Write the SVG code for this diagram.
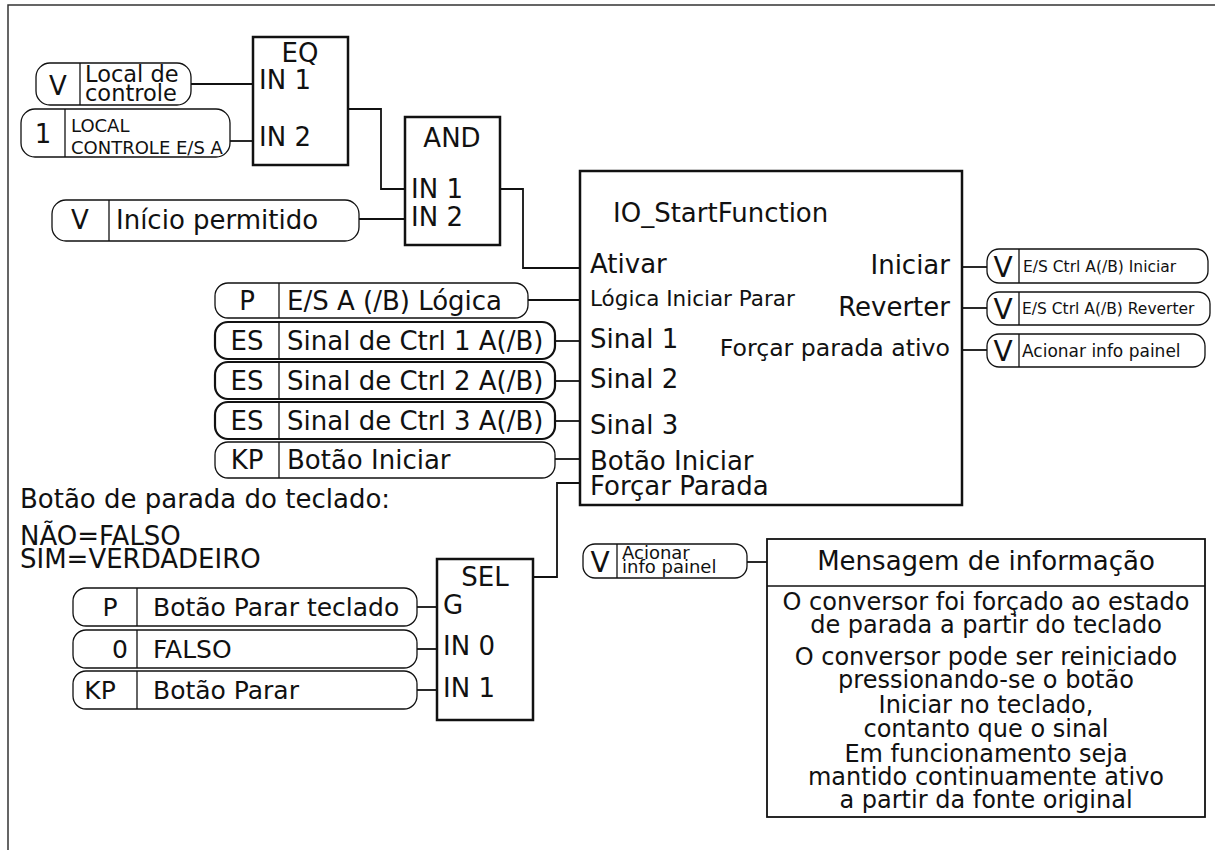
<svg xmlns="http://www.w3.org/2000/svg" width="1215" height="850" viewBox="0 0 1215 850">
<style>
text{font-family:"DejaVu Sans",Verdana,sans-serif;fill:#111}
.box{fill:#fff;stroke:#111;stroke-width:2.5}
.pill{fill:#fff;stroke:#111;stroke-width:1.3}
.pill2{fill:#fff;stroke:#111;stroke-width:2.2}
.div{stroke:#111;stroke-width:1.3}
.wire{fill:none;stroke:#111;stroke-width:1.8}
.frame{fill:none;stroke:#333;stroke-width:1.5}
.t26{font-size:26px}
.m{text-anchor:middle}
.e{text-anchor:end}
</style>
<path class="frame" d="M8,850 V5 H1215"/>
<g id="connectors">
<path class="wire" d="M191,84 H253"/>
<path class="wire" d="M230,141 H253"/>
<path class="wire" d="M348,109 H381 V189 H405"/>
<path class="wire" d="M359,219 H405"/>
<path class="wire" d="M500,189 H523 V268 H580"/>
<path class="wire" d="M528,300 H580"/>
<path class="wire" d="M555,341 H580"/>
<path class="wire" d="M555,381 H580"/>
<path class="wire" d="M555,421 H580"/>
<path class="wire" d="M555,459 H580"/>
<path class="wire" d="M533,577 H557 V483 H580"/>
<path class="wire" d="M417,607 H437"/>
<path class="wire" d="M417,649 H437"/>
<path class="wire" d="M417,690 H437"/>
<path class="wire" d="M962,267 H987"/>
<path class="wire" d="M962,308 H987"/>
<path class="wire" d="M962,350 H987"/>
<path class="wire" d="M747,562 H767"/>
</g>
<g id="eq">
<rect class="box" x="253" y="37" width="95" height="128"/>
<text class="t26 m" x="300" y="62">EQ</text>
<text class="t26" x="259" y="89">IN 1</text>
<text class="t26" x="259" y="146">IN 2</text>
</g>
<g id="and">
<rect class="box" x="405" y="117" width="95" height="128"/>
<text class="t26 m" x="452" y="147">AND</text>
<text class="t26" x="411" y="198">IN 1</text>
<text class="t26" x="411" y="226">IN 2</text>
</g>
<g id="io_startfunction">
<rect class="box" x="580" y="171" width="382" height="334"/>
<text class="t26" x="613" y="222">IO_StartFunction</text>
<text class="t26" x="590" y="273">Ativar</text>
<text x="590" y="306" font-size="21.5">Lógica Iniciar Parar</text>
<text class="t26" x="590" y="348">Sinal 1</text>
<text class="t26" x="590" y="388">Sinal 2</text>
<text class="t26" x="590" y="434">Sinal 3</text>
<text class="t26" x="590" y="470">Botão Iniciar</text>
<text class="t26" x="590" y="495">Forçar Parada</text>
<text class="t26 e" x="950" y="274">Iniciar</text>
<text class="t26 e" x="950" y="316">Reverter</text>
<text class="e" x="950" y="356" font-size="23.6">Forçar parada ativo</text>
</g>
<g id="sel">
<rect class="box" x="437" y="559" width="96" height="161"/>
<text class="t26 m" x="485" y="586">SEL</text>
<text class="t26" x="443" y="614">G</text>
<text class="t26" x="443" y="655">IN 0</text>
<text class="t26" x="443" y="697">IN 1</text>
</g>
<g id="mensagem">
<rect fill="#fff" stroke="#111" stroke-width="1.8" x="767" y="539" width="438" height="278"/>
<line class="div" x1="767" y1="586" x2="1205" y2="586" stroke-width="2"/>
<text class="t26 m" x="986" y="570">Mensagem de informação</text>
<g font-size="24" text-anchor="middle">
<text x="986" y="610">O conversor foi forçado ao estado</text>
<text x="986" y="633">de parada a partir do teclado</text>
<text x="986" y="665">O conversor pode ser reiniciado</text>
<text x="986" y="688">pressionando-se o botão</text>
<text x="986" y="713">Iniciar no teclado,</text>
<text x="986" y="737">contanto que o sinal</text>
<text x="986" y="762">Em funcionamento seja</text>
<text x="986" y="785">mantido continuamente ativo</text>
<text x="986" y="808">a partir da fonte original</text>
</g>
</g>
<g id="p_local_controle">
<rect class="pill" x="36" y="63" width="155" height="42" rx="14"/>
<line class="div" x1="80" y1="63" x2="80" y2="105"/>
<text class="t26 m" x="58" y="95">V</text>
<text x="85" y="82" font-size="22.5">Local de</text>
<text x="85" y="101" font-size="22.5">controle</text>
</g>
<g id="p_local_controle_a">
<rect class="pill" x="21" y="109" width="209" height="48" rx="14"/>
<line class="div" x1="65" y1="109" x2="65" y2="157"/>
<text class="t26 m" x="43" y="143">1</text>
<text x="71" y="132" font-size="18">LOCAL</text>
<text x="71" y="154" font-size="18">CONTROLE E/S A</text>
</g>
<g id="p_inicio_permitido">
<rect class="pill" x="52" y="200" width="307" height="41" rx="14"/>
<line class="div" x1="109" y1="200" x2="109" y2="241"/>
<text class="t26 m" x="80" y="229">V</text>
<text class="t26" x="116" y="229">Início permitido</text>
</g>
<g id="p_logica">
<rect class="pill" x="215" y="283" width="313" height="35" rx="13"/>
<line class="div" x1="279" y1="283" x2="279" y2="318"/>
<text class="t26 m" x="247" y="310">P</text>
<text class="t26" x="287" y="310">E/S A (/B) Lógica</text>
</g>
<g id="p_sinal1">
<rect class="pill2" x="215" y="322" width="340" height="37" rx="13"/>
<line class="div" x1="279" y1="322" x2="279" y2="359"/>
<text class="t26 m" x="247" y="350">ES</text>
<text class="t26" x="287" y="350">Sinal de Ctrl 1 A(/B)</text>
</g>
<g id="p_sinal2">
<rect class="pill2" x="215" y="362" width="340" height="37" rx="13"/>
<line class="div" x1="279" y1="362" x2="279" y2="399"/>
<text class="t26 m" x="247" y="390">ES</text>
<text class="t26" x="287" y="390">Sinal de Ctrl 2 A(/B)</text>
</g>
<g id="p_sinal3">
<rect class="pill2" x="215" y="402" width="340" height="37" rx="13"/>
<line class="div" x1="279" y1="402" x2="279" y2="439"/>
<text class="t26 m" x="247" y="430">ES</text>
<text class="t26" x="287" y="430">Sinal de Ctrl 3 A(/B)</text>
</g>
<g id="p_botao_iniciar">
<rect class="pill" x="215" y="442" width="340" height="36" rx="13"/>
<line class="div" x1="279" y1="442" x2="279" y2="478"/>
<text class="t26 m" x="247" y="469">KP</text>
<text class="t26" x="287" y="469">Botão Iniciar</text>
</g>
<g id="nota">
<text class="t26" x="20" y="508">Botão de parada do teclado:</text>
<text class="t26" x="20" y="545">NÃO=FALSO</text>
<text class="t26" x="20" y="568">SIM=VERDADEIRO</text>
</g>
<g id="p_botao_parar_teclado">
<rect class="pill" x="73" y="588" width="344" height="38" rx="13"/>
<line class="div" x1="137" y1="588" x2="137" y2="626"/>
<text class="m" x="110" y="616" font-size="25">P</text>
<text x="153" y="616" font-size="25">Botão Parar teclado</text>
</g>
<g id="p_falso">
<rect class="pill" x="73" y="630" width="344" height="38" rx="13"/>
<line class="div" x1="137" y1="630" x2="137" y2="668"/>
<text class="m" x="120" y="658" font-size="25">0</text>
<text x="153" y="658" font-size="25">FALSO</text>
</g>
<g id="p_botao_parar">
<rect class="pill" x="73" y="671" width="344" height="38" rx="13"/>
<line class="div" x1="137" y1="671" x2="137" y2="709"/>
<text class="m" x="100" y="699" font-size="25">KP</text>
<text x="153" y="699" font-size="25">Botão Parar</text>
</g>
<g id="p_out_iniciar">
<rect class="pill" x="987" y="249" width="221" height="34" rx="12"/>
<line class="div" x1="1019" y1="249" x2="1019" y2="283"/>
<text class="m" x="1003" y="277" font-size="28">V</text>
<text x="1023" y="272" font-size="15.5">E/S Ctrl A(/B) Iniciar</text>
</g>
<g id="p_out_reverter">
<rect class="pill" x="987" y="292" width="223" height="33" rx="12"/>
<line class="div" x1="1019" y1="292" x2="1019" y2="325"/>
<text class="m" x="1003" y="319" font-size="28">V</text>
<text x="1022" y="314" font-size="15.5">E/S Ctrl A(/B) Reverter</text>
</g>
<g id="p_out_acionar">
<rect class="pill" x="987" y="334" width="218" height="33" rx="12"/>
<line class="div" x1="1019" y1="334" x2="1019" y2="367"/>
<text class="m" x="1003" y="361" font-size="28">V</text>
<text x="1022" y="357" font-size="17">Acionar info painel</text>
</g>
<g id="p_acionar_info">
<rect class="pill" x="583" y="544" width="164" height="34" rx="12"/>
<line class="div" x1="617" y1="544" x2="617" y2="578"/>
<text class="m" x="600" y="572" font-size="28">V</text>
<text x="622" y="559" font-size="18">Acionar</text>
<text x="622" y="573" font-size="18">info painel</text>
</g>
</svg>
